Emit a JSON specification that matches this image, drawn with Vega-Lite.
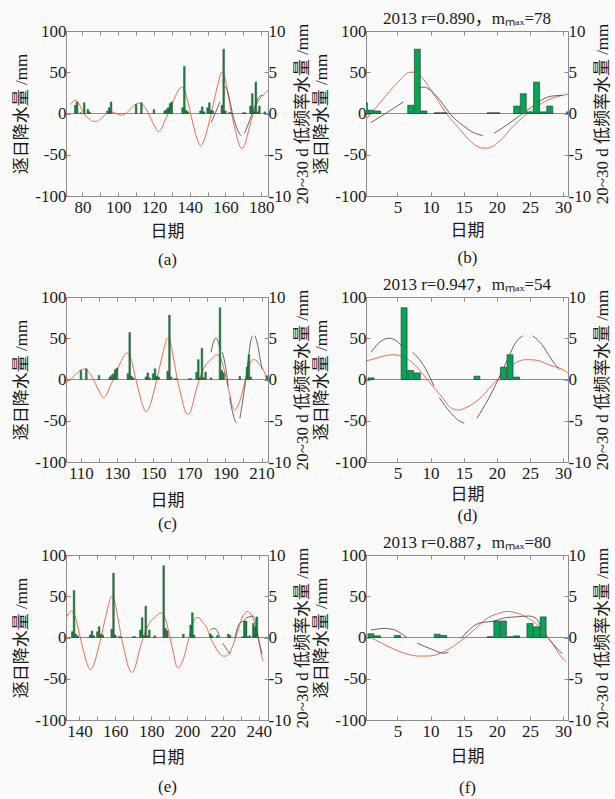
{
  "$schema": "https://vega.github.io/schema/vega-lite/v6.json",
  "background": "#fafafa",
  "padding": {"left": 12, "top": 9, "right": 0, "bottom": 0},
  "config": {
    "font": "'Liberation Serif', 'Noto Sans CJK SC'",
    "view": {"stroke": "#8c8c8c", "strokeWidth": 1},
    "axis": {
      "labelFont": "'Liberation Serif', 'Noto Sans CJK SC'",
      "titleFont": "'Liberation Serif', 'Noto Sans CJK SC'",
      "labelFontSize": 17,
      "titleFontSize": 17,
      "titleFontWeight": "normal",
      "labelColor": "#1a1a1a",
      "titleColor": "#1a1a1a",
      "tickColor": "#8c8c8c",
      "tickSize": -4,
      "domain": false,
      "grid": false,
      "labelOverlap": false,
      "labelFlush": false,
      "labelPadding": 4,
      "titlePadding": 4
    },
    "axisBottom": {"labelPadding": 7, "titlePadding": 8, "titleLineHeight": 27},
    "title": {"font": "'Liberation Serif', 'Noto Sans CJK SC'", "fontSize": 17, "fontWeight": "normal", "color": "#1a1a1a", "offset": -6}
  },
  "datasets": {
    "pr": [
      {"doy": 76, "mm": 10}, {"doy": 77, "mm": 14}, {"doy": 79, "mm": 1}, {"doy": 81, "mm": 13}, {"doy": 83, "mm": 5}, {"doy": 84, "mm": 2},
      {"doy": 94, "mm": 3}, {"doy": 95, "mm": 7}, {"doy": 96, "mm": 14}, {"doy": 110, "mm": 11}, {"doy": 113, "mm": 13}, {"doy": 120, "mm": 5},
      {"doy": 126, "mm": 3}, {"doy": 127, "mm": 5}, {"doy": 128, "mm": 7}, {"doy": 129, "mm": 12}, {"doy": 130, "mm": 14},
      {"doy": 136, "mm": 7}, {"doy": 137, "mm": 57}, {"doy": 138, "mm": 4}, {"doy": 139, "mm": 2},
      {"doy": 146, "mm": 3}, {"doy": 147, "mm": 8}, {"doy": 148, "mm": 2}, {"doy": 150, "mm": 7}, {"doy": 151, "mm": 13},
      {"doy": 152, "mm": 4}, {"doy": 153, "mm": 3}, {"doy": 158, "mm": 10}, {"doy": 159, "mm": 78}, {"doy": 160, "mm": 3},
      {"doy": 162, "mm": 1}, {"doy": 163, "mm": 1}, {"doy": 170, "mm": 1}, {"doy": 171, "mm": 1},
      {"doy": 174, "mm": 9}, {"doy": 175, "mm": 24}, {"doy": 176, "mm": 2}, {"doy": 177, "mm": 38}, {"doy": 178, "mm": 2}, {"doy": 179, "mm": 9},
      {"doy": 182, "mm": 2}, {"doy": 187, "mm": 87}, {"doy": 188, "mm": 11}, {"doy": 189, "mm": 8}, {"doy": 198, "mm": 4},
      {"doy": 202, "mm": 15}, {"doy": 203, "mm": 30}, {"doy": 204, "mm": 3},
      {"doy": 213, "mm": 4.5}, {"doy": 214, "mm": 2}, {"doy": 217, "mm": 2.5}, {"doy": 223, "mm": 4}, {"doy": 224, "mm": 2.5},
      {"doy": 231, "mm": 1}, {"doy": 232, "mm": 20}, {"doy": 233, "mm": 20}, {"doy": 234, "mm": 1}, {"doy": 235, "mm": 2},
      {"doy": 237, "mm": 17}, {"doy": 238, "mm": 13}, {"doy": 239, "mm": 25}
    ],
    "red": [
      {"doy": 73.6, "lf": 1.1}, {"doy": 75, "lf": 1.5}, {"doy": 76.5, "lf": 1.6}, {"doy": 78, "lf": 1.2}, {"doy": 80, "lf": 0.3},
      {"doy": 82, "lf": -0.3}, {"doy": 84, "lf": -0.7}, {"doy": 86, "lf": -0.95}, {"doy": 88, "lf": -0.95}, {"doy": 90, "lf": -0.7},
      {"doy": 92, "lf": -0.3}, {"doy": 94, "lf": 0.1}, {"doy": 96, "lf": 0.2}, {"doy": 98, "lf": 0.1}, {"doy": 100, "lf": -0.1},
      {"doy": 102, "lf": -0.2}, {"doy": 104, "lf": -0.05}, {"doy": 106, "lf": 0.35}, {"doy": 108, "lf": 0.8}, {"doy": 110, "lf": 1.15},
      {"doy": 112, "lf": 1.28}, {"doy": 114, "lf": 1.0}, {"doy": 116, "lf": 0.4}, {"doy": 118, "lf": -0.5}, {"doy": 120, "lf": -1.4},
      {"doy": 122.5, "lf": -2.2}, {"doy": 124.5, "lf": -1.7}, {"doy": 126, "lf": -0.9}, {"doy": 128, "lf": 0}, {"doy": 130, "lf": 1.1},
      {"doy": 132, "lf": 2.1}, {"doy": 134, "lf": 2.9}, {"doy": 135.5, "lf": 3.2}, {"doy": 137, "lf": 2.85}, {"doy": 138, "lf": 2.3},
      {"doy": 139, "lf": 1.4}, {"doy": 140, "lf": 0.45}, {"doy": 141, "lf": -0.5}, {"doy": 142, "lf": -1.4}, {"doy": 144, "lf": -3.0},
      {"doy": 146, "lf": -3.9}, {"doy": 148, "lf": -3.3}, {"doy": 150, "lf": -1.8}, {"doy": 152, "lf": 0}, {"doy": 154.3, "lf": 2.2},
      {"doy": 156.2, "lf": 3.9}, {"doy": 157.9, "lf": 5.0}, {"doy": 158.6, "lf": 5.0}, {"doy": 159.3, "lf": 4.7}, {"doy": 161, "lf": 2.9},
      {"doy": 162.4, "lf": 1.2}, {"doy": 163.4, "lf": 0}, {"doy": 165.3, "lf": -1.8}, {"doy": 167.2, "lf": -3.5}, {"doy": 168.9, "lf": -4.2},
      {"doy": 169.6, "lf": -4.2}, {"doy": 171.5, "lf": -3.3}, {"doy": 173.4, "lf": -1.6}, {"doy": 175.3, "lf": -0.2}, {"doy": 177.3, "lf": 1.0},
      {"doy": 179.2, "lf": 1.8}, {"doy": 180.9, "lf": 2.2}, {"doy": 182, "lf": 2.4}, {"doy": 183.5, "lf": 2.75}, {"doy": 185.4, "lf": 3.0},
      {"doy": 186.9, "lf": 2.75}, {"doy": 188.3, "lf": 2.0}, {"doy": 189.7, "lf": 0.8}, {"doy": 190.9, "lf": -0.4}, {"doy": 192.6, "lf": -2.0},
      {"doy": 194, "lf": -3.4}, {"doy": 195.2, "lf": -3.7}, {"doy": 196.4, "lf": -3.4}, {"doy": 198.3, "lf": -2.4}, {"doy": 200.2, "lf": -0.8},
      {"doy": 201.1, "lf": 0}, {"doy": 202.6, "lf": 1.2}, {"doy": 204, "lf": 2.1}, {"doy": 205.4, "lf": 2.4}, {"doy": 206.9, "lf": 2.35},
      {"doy": 208.8, "lf": 1.8}, {"doy": 211, "lf": 1.2}, {"doy": 213, "lf": 0}, {"doy": 214.5, "lf": -0.64}, {"doy": 216.4, "lf": -1.4},
      {"doy": 218.3, "lf": -1.97}, {"doy": 220.2, "lf": -2.25}, {"doy": 221.6, "lf": -2.25}, {"doy": 223.5, "lf": -1.9}, {"doy": 225, "lf": -1.3},
      {"doy": 226.9, "lf": -0.2}, {"doy": 228.8, "lf": 1.1}, {"doy": 230.7, "lf": 2.4}, {"doy": 232.6, "lf": 3.0}, {"doy": 233.5, "lf": 3.17},
      {"doy": 234.9, "lf": 3.0}, {"doy": 236.8, "lf": 2.3}, {"doy": 238.7, "lf": 1.1}, {"doy": 240.2, "lf": -0.5}, {"doy": 241.9, "lf": -2.5},
      {"doy": 242.5, "lf": -2.9}
    ],
    "blk": [
      {"m": 6, "seg": "J1", "doy": 152, "lf": -1.1}, {"m": 6, "seg": "J1", "doy": 154.5, "lf": 0.15}, {"m": 6, "seg": "J1", "doy": 156.9, "lf": 1.4},
      {"m": 6, "seg": "J2", "doy": 159.3, "lf": 3.1}, {"m": 6, "seg": "J2", "doy": 160, "lf": 3.2}, {"m": 6, "seg": "J2", "doy": 161, "lf": 2.8},
      {"m": 6, "seg": "J2", "doy": 162, "lf": 2.0}, {"m": 6, "seg": "J2", "doy": 162.9, "lf": 1.1}, {"m": 6, "seg": "J2", "doy": 163.9, "lf": 0},
      {"m": 6, "seg": "J2", "doy": 165.8, "lf": -1.4}, {"m": 6, "seg": "J2", "doy": 167.2, "lf": -2.2}, {"m": 6, "seg": "J2", "doy": 168.9, "lf": -2.7},
      {"m": 6, "seg": "J3", "doy": 170.6, "lf": -2.4}, {"m": 6, "seg": "J3", "doy": 172.5, "lf": -1.4}, {"m": 6, "seg": "J3", "doy": 174.4, "lf": -0.3},
      {"m": 6, "seg": "J3", "doy": 176.3, "lf": 0.8}, {"m": 6, "seg": "J3", "doy": 177.7, "lf": 1.6}, {"m": 6, "seg": "J3", "doy": 179.2, "lf": 2.1},
      {"m": 6, "seg": "J3", "doy": 181, "lf": 2.2},
      {"m": 7, "seg": "L1", "doy": 182, "lf": 3.3}, {"m": 7, "seg": "L1", "doy": 183.5, "lf": 4.65}, {"m": 7, "seg": "L1", "doy": 184.7, "lf": 5.0},
      {"m": 7, "seg": "L1", "doy": 185.9, "lf": 4.65}, {"m": 7, "seg": "L1", "doy": 186.9, "lf": 3.8},
      {"m": 7, "seg": "L2", "doy": 188.3, "lf": 3.3}, {"m": 7, "seg": "L2", "doy": 189.7, "lf": 2.0}, {"m": 7, "seg": "L2", "doy": 190.7, "lf": 0.6},
      {"m": 7, "seg": "L2", "doy": 191.5, "lf": -0.8},
      {"m": 7, "seg": "L3", "doy": 192.3, "lf": -2.2}, {"m": 7, "seg": "L3", "doy": 194, "lf": -4.0}, {"m": 7, "seg": "L3", "doy": 195.4, "lf": -5.06},
      {"m": 7, "seg": "L3", "doy": 196.1, "lf": -5.3},
      {"m": 7, "seg": "L4", "doy": 198, "lf": -4.7}, {"m": 7, "seg": "L4", "doy": 199.7, "lf": -2.4}, {"m": 7, "seg": "L4", "doy": 201.1, "lf": -0.2},
      {"m": 7, "seg": "L4", "doy": 202.6, "lf": 2.4}, {"m": 7, "seg": "L4", "doy": 204, "lf": 4.65}, {"m": 7, "seg": "L4", "doy": 205, "lf": 5.3},
      {"m": 7, "seg": "L5", "doy": 206.4, "lf": 5.3}, {"m": 7, "seg": "L5", "doy": 207.8, "lf": 4.25}, {"m": 7, "seg": "L5", "doy": 209.2, "lf": 2.5},
      {"m": 7, "seg": "L5", "doy": 210.4, "lf": 1.2},
      {"m": 8, "seg": "A1", "doy": 213, "lf": 0.9}, {"m": 8, "seg": "A1", "doy": 215, "lf": 1.1}, {"m": 8, "seg": "A1", "doy": 216.4, "lf": 0.96},
      {"m": 8, "seg": "A1", "doy": 217.8, "lf": 0.36}, {"m": 8, "seg": "A1", "doy": 218.4, "lf": 0},
      {"m": 8, "seg": "A2", "doy": 220, "lf": -0.7}, {"m": 8, "seg": "A2", "doy": 222.1, "lf": -1.4}, {"m": 8, "seg": "A2", "doy": 224, "lf": -1.9},
      {"m": 8, "seg": "A2", "doy": 224.7, "lf": -1.8},
      {"m": 8, "seg": "A3", "doy": 226.6, "lf": -0.1}, {"m": 8, "seg": "A3", "doy": 227.8, "lf": 0.9}, {"m": 8, "seg": "A3", "doy": 229.2, "lf": 1.7},
      {"m": 8, "seg": "A3", "doy": 230.7, "lf": 1.9}, {"m": 8, "seg": "A3", "doy": 231.6, "lf": 2.0}, {"m": 8, "seg": "A3", "doy": 233.3, "lf": 2.4},
      {"m": 8, "seg": "A3", "doy": 234.9, "lf": 2.5}, {"m": 8, "seg": "A3", "doy": 236.8, "lf": 2.6}, {"m": 8, "seg": "A3", "doy": 237.8, "lf": 2.4},
      {"m": 8, "seg": "A3", "doy": 238.3, "lf": 1.9}, {"m": 8, "seg": "A3", "doy": 239.2, "lf": 0.5}, {"m": 8, "seg": "A3", "doy": 240.2, "lf": -0.5},
      {"m": 8, "seg": "A3", "doy": 241.9, "lf": -2.0}
    ],
    "zero": [{"z": 0}]
  },
  "bounds": "flush",
  "spacing": 266,
  "vconcat": [
    {
      "bounds": "flush",
      "spacing": 98,
      "hconcat": [
        {
          "width": 202, "height": 165,
          "resolve": {"scale": {"y": "independent"}, "axis": {"x": "independent"}},
          "layer": [
            {"data": {"name": "zero"}, "mark": {"type": "rule", "color": "#8c8c8c", "strokeWidth": 1},
             "encoding": {"y": {"field": "z", "type": "quantitative", "scale": {"domain": [-100, 100], "nice": false}, "axis": null}}},
            {"data": {"name": "red"}, "mark": {"type": "line", "color": "#f26a4b", "strokeWidth": 1, "interpolate": "monotone", "clip": true},
             "encoding": {
               "x": {"field": "doy", "type": "quantitative", "scale": {"domain": [73.6, 181], "nice": false, "zero": false},
                     "axis": {"orient": "top", "values": [80, 90, 100, 110, 120, 130, 140, 150, 160, 170, 180], "labels": false, "title": null}},
               "y": {"field": "lf", "type": "quantitative", "scale": {"domain": [-10, 10], "nice": false},
                     "axis": {"orient": "right", "values": [-10, -5, 0, 5, 10], "labelExpr": "'' + datum.value", "title": "20~30 d 低频率水量 /mm", "titleAngle": 270, "titleBaseline": "top"}}}},
            {"data": {"name": "blk"}, "transform": [{"filter": "datum.m == 6"}],
             "mark": {"type": "line", "color": "#555555", "strokeWidth": 0.9, "interpolate": "monotone", "clip": true},
             "encoding": {
               "x": {"field": "doy", "type": "quantitative", "scale": {"domain": [73.6, 181], "nice": false, "zero": false}, "axis": null},
               "y": {"field": "lf", "type": "quantitative", "scale": {"domain": [-10, 10], "nice": false}, "axis": null},
               "detail": {"field": "seg"}}},
            {"data": {"name": "pr"}, "mark": {"type": "bar", "orient": "vertical", "size": 1.7, "fill": "#128a3e", "stroke": "#1d3b24", "strokeWidth": 0.4, "clip": true},
             "encoding": {
               "x": {"field": "doy", "type": "quantitative", "scale": {"domain": [73.6, 181], "nice": false, "zero": false},
                     "axis": {"orient": "bottom", "values": [80, 90, 100, 110, 120, 130, 140, 150, 160, 170, 180], "labelExpr": "datum.value % 20 == 0 ? '' + datum.value : ''", "title": ["日期", "(a)"], "titlePadding": 8, "titleLineHeight": 28}},
               "y": {"field": "mm", "type": "quantitative", "scale": {"domain": [-100, 100], "nice": false},
                     "axis": {"orient": "left", "values": [-100, -50, 0, 50, 100], "labelExpr": "'' + datum.value", "title": "逐日降水量 /mm"}}}}
          ]
        },
        {
          "width": 202, "height": 165,
          "title": {"text": "2013 r=0.890，mₘₐₓ=78"},
          "resolve": {"scale": {"y": "independent"}, "axis": {"x": "independent"}},
          "layer": [
            {"data": {"name": "zero"}, "mark": {"type": "rule", "color": "#8c8c8c", "strokeWidth": 1},
             "encoding": {"y": {"field": "z", "type": "quantitative", "scale": {"domain": [-100, 100], "nice": false}, "axis": null}}},
            {"data": {"name": "red"}, "mark": {"type": "line", "color": "#f26a4b", "strokeWidth": 1, "interpolate": "monotone", "clip": true},
             "encoding": {
               "x": {"field": "doy", "type": "quantitative", "scale": {"domain": [152, 181], "nice": false, "zero": false},
                     "axis": {"orient": "top", "values": [156, 161, 166, 171, 176, 181], "labels": false, "title": null}},
               "y": {"field": "lf", "type": "quantitative", "scale": {"domain": [-10, 10], "nice": false},
                     "axis": {"orient": "right", "values": [-10, -5, 0, 5, 10], "labelExpr": "'' + datum.value", "title": "20~30 d 低频率水量 /mm", "titleAngle": 270, "titleBaseline": "top"}}}},
            {"data": {"name": "blk"}, "transform": [{"filter": "datum.m == 6"}],
             "mark": {"type": "line", "color": "#555555", "strokeWidth": 0.9, "interpolate": "monotone", "clip": true},
             "encoding": {
               "x": {"field": "doy", "type": "quantitative", "scale": {"domain": [152, 181], "nice": false, "zero": false}, "axis": null},
               "y": {"field": "lf", "type": "quantitative", "scale": {"domain": [-10, 10], "nice": false}, "axis": null},
               "detail": {"field": "seg"}}},
            {"data": {"name": "pr"}, "mark": {"type": "bar", "orient": "vertical", "size": 6, "fill": "#00a651", "stroke": "#2b2b2b", "strokeWidth": 0.6, "clip": true},
             "encoding": {
               "x": {"field": "doy", "type": "quantitative", "scale": {"domain": [152, 181], "nice": false, "zero": false},
                     "axis": {"orient": "bottom", "values": [156, 161, 166, 171, 176, 181], "labelExpr": "'' + (datum.value - 151)", "title": ["日期", "(b)"], "titlePadding": 7, "titleLineHeight": 27}},
               "y": {"field": "mm", "type": "quantitative", "scale": {"domain": [-100, 100], "nice": false},
                     "axis": {"orient": "left", "values": [-100, -50, 0, 50, 100], "labelExpr": "'' + datum.value", "title": "逐日降水量 /mm"}}}}
          ]
        }
      ]
    },
    {
      "bounds": "flush",
      "spacing": 258,
      "vconcat": [
        {
          "bounds": "flush",
          "spacing": 98,
          "hconcat": [
            {
              "width": 202, "height": 165,
              "resolve": {"scale": {"y": "independent"}, "axis": {"x": "independent"}},
              "layer": [
                {"data": {"name": "zero"}, "mark": {"type": "rule", "color": "#8c8c8c", "strokeWidth": 1},
                 "encoding": {"y": {"field": "z", "type": "quantitative", "scale": {"domain": [-100, 100], "nice": false}, "axis": null}}},
                {"data": {"name": "red"}, "mark": {"type": "line", "color": "#f26a4b", "strokeWidth": 1, "interpolate": "monotone", "clip": true},
                 "encoding": {
                   "x": {"field": "doy", "type": "quantitative", "scale": {"domain": [104.5, 210.8], "nice": false, "zero": false},
                         "axis": {"orient": "top", "values": [110, 120, 130, 140, 150, 160, 170, 180, 190, 200, 210], "labels": false, "title": null}},
                   "y": {"field": "lf", "type": "quantitative", "scale": {"domain": [-10, 10], "nice": false},
                         "axis": {"orient": "right", "values": [-10, -5, 0, 5, 10], "labelExpr": "'' + datum.value", "title": "20~30 d 低频率水量 /mm", "titleAngle": 270, "titleBaseline": "top"}}}},
                {"data": {"name": "blk"}, "transform": [{"filter": "datum.m == 7"}],
                 "mark": {"type": "line", "color": "#555555", "strokeWidth": 0.9, "interpolate": "monotone", "clip": true},
                 "encoding": {
                   "x": {"field": "doy", "type": "quantitative", "scale": {"domain": [104.5, 210.8], "nice": false, "zero": false}, "axis": null},
                   "y": {"field": "lf", "type": "quantitative", "scale": {"domain": [-10, 10], "nice": false}, "axis": null},
                   "detail": {"field": "seg"}}},
                {"data": {"name": "pr"}, "mark": {"type": "bar", "orient": "vertical", "size": 1.7, "fill": "#128a3e", "stroke": "#1d3b24", "strokeWidth": 0.4, "clip": true},
                 "encoding": {
                   "x": {"field": "doy", "type": "quantitative", "scale": {"domain": [104.5, 210.8], "nice": false, "zero": false},
                         "axis": {"orient": "bottom", "values": [110, 120, 130, 140, 150, 160, 170, 180, 190, 200, 210], "labelExpr": "datum.value % 20 == 10 ? '' + datum.value : ''", "title": ["日期", "(c)"], "titlePadding": 11, "titleLineHeight": 23}},
                   "y": {"field": "mm", "type": "quantitative", "scale": {"domain": [-100, 100], "nice": false},
                         "axis": {"orient": "left", "values": [-100, -50, 0, 50, 100], "labelExpr": "'' + datum.value", "title": "逐日降水量 /mm"}}}}
              ]
            },
            {
              "width": 202, "height": 165,
              "title": {"text": "2013 r=0.947，mₘₐₓ=54"},
              "resolve": {"scale": {"y": "independent"}, "axis": {"x": "independent"}},
              "layer": [
                {"data": {"name": "zero"}, "mark": {"type": "rule", "color": "#8c8c8c", "strokeWidth": 1},
                 "encoding": {"y": {"field": "z", "type": "quantitative", "scale": {"domain": [-100, 100], "nice": false}, "axis": null}}},
                {"data": {"name": "red"}, "mark": {"type": "line", "color": "#f26a4b", "strokeWidth": 1, "interpolate": "monotone", "clip": true},
                 "encoding": {
                   "x": {"field": "doy", "type": "quantitative", "scale": {"domain": [182, 211], "nice": false, "zero": false},
                         "axis": {"orient": "top", "values": [186, 191, 196, 201, 206, 211], "labels": false, "title": null}},
                   "y": {"field": "lf", "type": "quantitative", "scale": {"domain": [-10, 10], "nice": false},
                         "axis": {"orient": "right", "values": [-10, -5, 0, 5, 10], "labelExpr": "'' + datum.value", "title": "20~30 d 低频率水量 /mm", "titleAngle": 270, "titleBaseline": "top"}}}},
                {"data": {"name": "blk"}, "transform": [{"filter": "datum.m == 7"}],
                 "mark": {"type": "line", "color": "#555555", "strokeWidth": 0.9, "interpolate": "monotone", "clip": true},
                 "encoding": {
                   "x": {"field": "doy", "type": "quantitative", "scale": {"domain": [182, 211], "nice": false, "zero": false}, "axis": null},
                   "y": {"field": "lf", "type": "quantitative", "scale": {"domain": [-10, 10], "nice": false}, "axis": null},
                   "detail": {"field": "seg"}}},
                {"data": {"name": "pr"}, "mark": {"type": "bar", "orient": "vertical", "size": 6, "fill": "#00a651", "stroke": "#2b2b2b", "strokeWidth": 0.6, "clip": true},
                 "encoding": {
                   "x": {"field": "doy", "type": "quantitative", "scale": {"domain": [182, 211], "nice": false, "zero": false},
                         "axis": {"orient": "bottom", "values": [186, 191, 196, 201, 206, 211], "labelExpr": "'' + (datum.value - 181)", "title": ["日期", "(d)"], "titlePadding": 5, "titleLineHeight": 21}},
                   "y": {"field": "mm", "type": "quantitative", "scale": {"domain": [-100, 100], "nice": false},
                         "axis": {"orient": "left", "values": [-100, -50, 0, 50, 100], "labelExpr": "'' + datum.value", "title": "逐日降水量 /mm"}}}}
              ]
            }
          ]
        },
        {
          "bounds": "flush",
          "spacing": 98,
          "hconcat": [
            {
              "width": 202, "height": 165,
              "resolve": {"scale": {"y": "independent"}, "axis": {"x": "independent"}},
              "layer": [
                {"data": {"name": "zero"}, "mark": {"type": "rule", "color": "#8c8c8c", "strokeWidth": 1},
                 "encoding": {"y": {"field": "z", "type": "quantitative", "scale": {"domain": [-100, 100], "nice": false}, "axis": null}}},
                {"data": {"name": "red"}, "mark": {"type": "line", "color": "#f26a4b", "strokeWidth": 1, "interpolate": "monotone", "clip": true},
                 "encoding": {
                   "x": {"field": "doy", "type": "quantitative", "scale": {"domain": [135.3, 242.4], "nice": false, "zero": false},
                         "axis": {"orient": "top", "values": [140, 150, 160, 170, 180, 190, 200, 210, 220, 230, 240], "labels": false, "title": null}},
                   "y": {"field": "lf", "type": "quantitative", "scale": {"domain": [-10, 10], "nice": false},
                         "axis": {"orient": "right", "values": [-10, -5, 0, 5, 10], "labelExpr": "'' + datum.value", "title": "20~30 d 低频率水量 /mm", "titleAngle": 270, "titleBaseline": "top"}}}},
                {"data": {"name": "blk"}, "transform": [{"filter": "datum.m == 8"}],
                 "mark": {"type": "line", "color": "#555555", "strokeWidth": 0.9, "interpolate": "monotone", "clip": true},
                 "encoding": {
                   "x": {"field": "doy", "type": "quantitative", "scale": {"domain": [135.3, 242.4], "nice": false, "zero": false}, "axis": null},
                   "y": {"field": "lf", "type": "quantitative", "scale": {"domain": [-10, 10], "nice": false}, "axis": null},
                   "detail": {"field": "seg"}}},
                {"data": {"name": "pr"}, "mark": {"type": "bar", "orient": "vertical", "size": 1.7, "fill": "#128a3e", "stroke": "#1d3b24", "strokeWidth": 0.4, "clip": true},
                 "encoding": {
                   "x": {"field": "doy", "type": "quantitative", "scale": {"domain": [135.3, 242.4], "nice": false, "zero": false},
                         "axis": {"orient": "bottom", "values": [140, 150, 160, 170, 180, 190, 200, 210, 220, 230, 240], "labelExpr": "datum.value % 20 == 0 ? '' + datum.value : ''", "title": ["日期", "(e)"], "titlePadding": 10, "titleLineHeight": 29}},
                   "y": {"field": "mm", "type": "quantitative", "scale": {"domain": [-100, 100], "nice": false},
                         "axis": {"orient": "left", "values": [-100, -50, 0, 50, 100], "labelExpr": "'' + datum.value", "title": "逐日降水量 /mm"}}}}
              ]
            },
            {
              "width": 202, "height": 165,
              "title": {"text": "2013 r=0.887，mₘₐₓ=80"},
              "resolve": {"scale": {"y": "independent"}, "axis": {"x": "independent"}},
              "layer": [
                {"data": {"name": "zero"}, "mark": {"type": "rule", "color": "#8c8c8c", "strokeWidth": 1},
                 "encoding": {"y": {"field": "z", "type": "quantitative", "scale": {"domain": [-100, 100], "nice": false}, "axis": null}}},
                {"data": {"name": "red"}, "mark": {"type": "line", "color": "#f26a4b", "strokeWidth": 1, "interpolate": "monotone", "clip": true},
                 "encoding": {
                   "x": {"field": "doy", "type": "quantitative", "scale": {"domain": [213, 242], "nice": false, "zero": false},
                         "axis": {"orient": "top", "values": [217, 222, 227, 232, 237, 242], "labels": false, "title": null}},
                   "y": {"field": "lf", "type": "quantitative", "scale": {"domain": [-10, 10], "nice": false},
                         "axis": {"orient": "right", "values": [-10, -5, 0, 5, 10], "labelExpr": "'' + datum.value", "title": "20~30 d 低频率水量 /mm", "titleAngle": 270, "titleBaseline": "top"}}}},
                {"data": {"name": "blk"}, "transform": [{"filter": "datum.m == 8"}],
                 "mark": {"type": "line", "color": "#555555", "strokeWidth": 0.9, "interpolate": "monotone", "clip": true},
                 "encoding": {
                   "x": {"field": "doy", "type": "quantitative", "scale": {"domain": [213, 242], "nice": false, "zero": false}, "axis": null},
                   "y": {"field": "lf", "type": "quantitative", "scale": {"domain": [-10, 10], "nice": false}, "axis": null},
                   "detail": {"field": "seg"}}},
                {"data": {"name": "pr"}, "mark": {"type": "bar", "orient": "vertical", "size": 6, "fill": "#00a651", "stroke": "#2b2b2b", "strokeWidth": 0.6, "clip": true},
                 "encoding": {
                   "x": {"field": "doy", "type": "quantitative", "scale": {"domain": [213, 242], "nice": false, "zero": false},
                         "axis": {"orient": "bottom", "values": [217, 222, 227, 232, 237, 242], "labelExpr": "'' + (datum.value - 212)", "title": ["日期", "(f)"], "titlePadding": 9, "titleLineHeight": 31}},
                   "y": {"field": "mm", "type": "quantitative", "scale": {"domain": [-100, 100], "nice": false},
                         "axis": {"orient": "left", "values": [-100, -50, 0, 50, 100], "labelExpr": "'' + datum.value", "title": "逐日降水量 /mm"}}}}
              ]
            }
          ]
        }
      ]
    }
  ]
}
